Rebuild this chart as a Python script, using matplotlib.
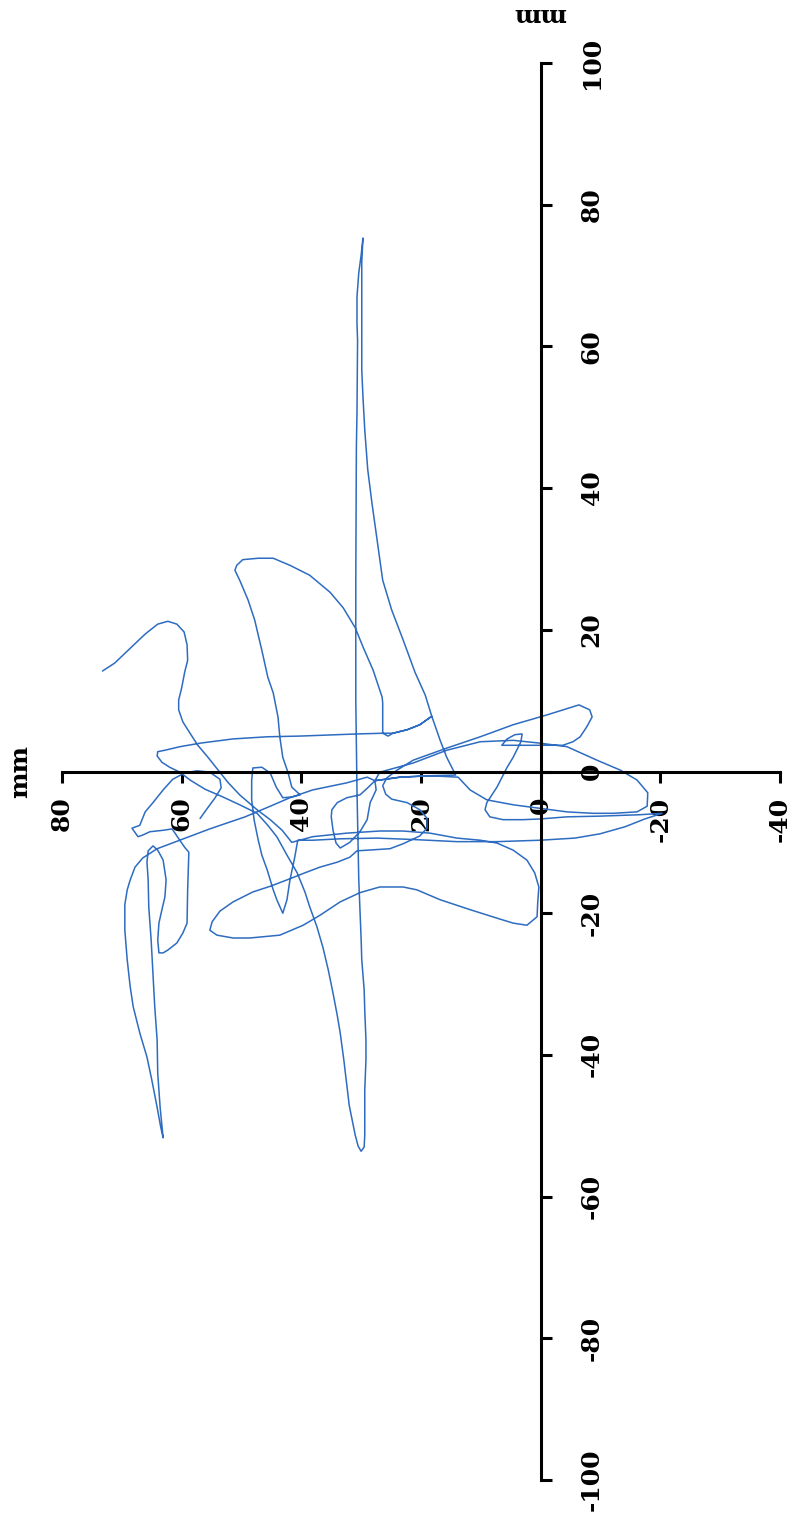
import matplotlib
matplotlib.use("Agg")
import matplotlib.pyplot as plt

plt.rcParams['font.family'] = ['DejaVu Serif']
plt.rcParams['axes.unicode_minus'] = False

# trajectory pieces in mm, (horizontal, vertical) as drawn on the page
tail = [(73.2, 14.2), (71.2, 15.3), (68.6, 17.4), (66.1, 19.4), (64.0, 20.8), (62.3, 21.2),
        (60.8, 20.8), (59.6, 19.7), (59.1, 17.9), (59.0, 15.7), (59.5, 14.0), (60.0, 11.8),
        (60.5, 10.1), (60.5, 8.7), (59.8, 7.0), (58.6, 5.4), (57.3, 3.7), (55.6, 2.0),
        (53.9, 0.2), (52.3, -1.5), (50.3, -3.3), (47.4, -5.4), (45.2, -6.8), (43.2, -8.3),
        (41.6, -10.0)]
lower_loop = [(38.1, -9.2), (32.4, -8.7), (26.9, -8.4), (23.0, -8.4), (18.5, -8.7), (14.0, -9.4),
              (10.1, -9.7), (7.3, -10.1), (4.6, -11.1), (2.3, -12.5), (1.0, -14.3), (0.3, -16.3),
              (0.5, -18.6), (0.6, -20.5), (2.3, -21.7), (4.6, -21.4), (7.3, -20.7), (11.8, -19.5),
              (16.8, -18.1), (20.7, -16.7), (23.0, -16.3), (26.9, -16.3), (30.2, -17.1),
              (33.5, -18.4), (36.9, -20.3), (39.7, -21.7), (43.6, -23.1), (48.6, -23.5),
              (51.4, -23.5), (54.1, -23.1), (55.3, -22.4), (54.9, -21.2), (53.6, -19.7),
              (51.4, -18.4), (48.1, -17.0), (45.2, -16.2), (42.4, -15.3), (39.4, -14.3),
              (36.9, -13.5), (34.0, -12.8), (31.9, -12.1)]
loop_b = [(30.7, -11.2), (25.2, -10.9), (23.0, -10.2), (20.2, -9.1), (19.0, -8.0), (19.0, -6.6),
          (20.2, -5.4), (22.3, -4.4), (24.9, -3.9), (25.9, -3.2), (26.4, -2.0), (25.7, -0.9),
          (24.0, 0.2), (21.3, 1.6), (15.7, 3.3), (10.1, 4.9), (4.6, 6.6), (-1.1, 8.0), (-6.4, 9.4)]
hook = [(-8.2, 8.7), (-8.6, 7.7), (-7.7, 6.3), (-6.6, 4.9), (-5.4, 4.2), (-3.7, 3.7), (-1.1, 3.7),
        (3.5, 3.7), (6.5, 3.7), (5.6, 4.6), (4.3, 5.2), (3.1, 5.3), (3.3, 4.2), (4.6, 2.0),
        (5.6, 0.6), (7.3, -2.2), (9.0, -4.4), (9.3, -5.4), (8.5, -6.4), (6.3, -6.8), (3.0, -6.8),
        (0.1, -6.7), (-4.4, -6.4), (-9.9, -6.3), (-16.6, -6.1), (-20.3, -5.9)]
back_line = [(-17.4, -6.7), (-14.1, -7.8), (-9.9, -8.8), (-5.7, -9.4), (0.1, -9.7), (7.3, -9.9),
             (14.0, -9.9), (21.3, -9.6), (27.4, -9.4), (33.5, -9.5), (38.1, -9.7), (40.6, -9.7)]
spike = [(41.1, -12.1), (41.9, -15.3), (42.4, -18.1), (43.1, -20.0), (44.1, -18.1), (44.7, -16.7),
         (45.7, -13.9), (46.6, -11.8), (47.2, -9.7), (47.9, -6.8), (48.3, -4.0), (48.3, -1.2),
         (48.1, 0.5), (46.6, 0.6), (45.2, -0.2), (44.2, -2.2), (43.1, -3.7), (41.6, -3.6),
         (40.2, -3.3)]
triangle = [(41.6, -2.2), (42.2, -0.2), (43.1, 2.0), (43.6, 4.9), (43.9, 7.7), (44.7, 11.1),
            (45.6, 13.3), (46.6, 17.1), (47.8, 21.4), (48.9, 24.2), (50.3, 27.0), (51.1, 28.4),
            (50.8, 29.1), (49.8, 29.9), (47.2, 30.1), (44.7, 30.1), (41.9, 29.1), (38.6, 27.7),
            (35.2, 25.3), (33.0, 23.1), (31.0, 20.3), (29.7, 17.6), (28.0, 14.3), (26.5, 10.5),
            (26.4, 9.7), (26.4, 7.3), (26.4, 5.4), (25.5, 5.0), (24.7, 5.4), (22.3, 5.9),
            (20.2, 6.6), (18.2, 7.8)]
strand = [(19.3, 10.8), (21.0, 14.0), (23.0, 18.6), (24.9, 22.8), (26.4, 27.0), (27.4, 33.1),
          (28.2, 37.9), (28.9, 42.6), (29.4, 48.2), (29.7, 52.9), (29.9, 56.7), (29.9, 66.5),
          (29.9, 71.9), (29.7, 75.3), (30.0, 72.9), (30.4, 70.4), (30.7, 67.0), (30.7, 63.3),
          (30.6, 60.9), (30.7, 50.6), (30.8, 45.8), (30.9, 27.0), (30.9, 10.1), (30.7, -2.6),
          (30.5, -11.1), (30.4, -15.3), (30.2, -19.5), (30.0, -23.8), (29.9, -26.6),
          (29.5, -30.8), (29.4, -33.7), (29.2, -37.9), (29.2, -40.7), (29.4, -45.0),
          (29.4, -47.8), (29.4, -51.3), (29.5, -53.0), (30.0, -53.6)]
long_diag = [(30.5, -52.9), (31.0, -51.3), (31.5, -49.2), (32.0, -47.1), (32.4, -44.2),
             (32.9, -40.7), (33.5, -36.9), (34.0, -34.4), (34.7, -31.3), (35.5, -28.0),
             (36.4, -24.8), (37.4, -21.9), (38.6, -19.1), (39.4, -17.0), (40.7, -14.3),
             (42.4, -11.8), (44.1, -9.2), (45.6, -7.6), (47.4, -5.9), (50.3, -4.7), (53.1, -3.6),
             (56.1, -2.5), (58.6, -1.2), (60.3, -0.1), (62.0, 0.6), (63.3, 1.3), (64.1, 2.2),
             (64.0, 2.8)]
crossbar = [(62.8, 3.0), (60.3, 3.5), (56.9, 4.0), (51.4, 4.6), (45.7, 4.9), (40.2, 5.0),
            (30.7, 5.3), (26.4, 5.4), (24.7, 5.4), (22.3, 5.9), (20.2, 6.6), (18.2, 7.8),
            (16.8, 4.4), (15.7, 2.0), (14.2, -0.5), (18.5, -0.6), (23.5, -0.8), (27.7, -1.3)]
loop_a = [(27.5, -2.6), (28.5, -4.4), (29.0, -6.8), (30.2, -8.5), (31.9, -10.0), (33.5, -10.8),
          (34.2, -10.1), (34.7, -8.3), (35.0, -6.4), (34.9, -5.4), (34.0, -4.4), (32.4, -3.7),
          (30.2, -3.3), (28.9, -2.3), (27.7, -1.3), (26.9, -0.1)]
big_loop = [(21.3, 1.2), (15.7, 3.0), (10.1, 4.2), (4.6, 4.4), (0.1, 4.0), (-4.4, 3.5),
            (-9.4, 1.6), (-13.3, 0.2), (-16.1, -1.2), (-17.9, -3.0), (-17.8, -4.9),
            (-16.1, -5.7), (-12.1, -5.9), (-8.7, -5.9), (-4.4, -5.7), (0.1, -5.2), (4.6, -4.7),
            (9.0, -4.0), (11.8, -2.6), (13.8, -0.8), (18.5, -0.6), (23.5, -0.8), (27.7, -1.3),
            (29.0, -0.8), (32.4, -1.6), (38.1, -2.6), (41.9, -3.7), (45.2, -4.9), (49.4, -6.4),
            (55.3, -8.1), (60.3, -9.7), (64.1, -10.9), (66.5, -12.2), (67.8, -13.5)]
far_left = [(68.6, -15.3), (69.1, -16.7), (69.5, -18.8), (69.5, -22.4), (69.1, -26.6),
            (68.6, -30.4), (68.1, -33.2), (67.0, -36.9), (65.8, -40.3), (65.0, -43.5),
            (64.1, -47.4), (63.5, -50.2), (63.1, -51.7), (63.6, -47.4), (64.0, -42.6),
            (64.1, -37.9), (64.5, -33.2), (64.8, -28.4), (65.1, -23.8), (65.5, -19.1),
            (65.6, -15.3), (65.8, -12.8), (65.6, -11.2), (64.8, -10.5), (64.0, -11.1),
            (63.1, -12.5), (62.6, -15.3), (62.8, -17.7), (63.3, -19.5), (63.8, -21.4),
            (64.0, -23.8), (63.8, -25.6), (63.1, -25.6), (62.3, -25.2), (60.8, -24.2),
            (59.8, -22.8), (59.1, -21.4), (59.0, -16.7), (58.8, -11.4), (59.5, -10.7),
            (60.3, -9.7), (61.1, -8.7), (61.6, -8.1), (63.1, -8.3), (65.3, -8.5), (66.6, -9.0),
            (67.3, -9.2), (68.3, -8.0)]
arc_60 = [(67.0, -7.6), (66.1, -5.7), (64.8, -4.4), (63.1, -2.6), (61.5, -1.1), (59.5, -0.2),
          (57.4, 0.1), (55.3, -0.1), (53.6, -1.1), (53.4, -2.3), (54.4, -3.7), (55.8, -5.3),
          (56.9, -6.6)]

pieces = [tail, lower_loop, loop_b, hook, back_line, spike, triangle, strand, long_diag,
          crossbar, loop_a, big_loop, far_left, arc_60]

h_ticks = [80, 60, 40, 20, 0, -20, -40]
v_ticks = [100, 80, 60, 40, 20, 0, -20, -40, -60, -80, -100]

track = [p for piece in pieces for p in piece]
xs = [p[0] for p in track]
ys = [p[1] for p in track]

fig = plt.figure(figsize=(7.92, 15.21), dpi=100)
ax = fig.add_axes([62 / 792, 1 - 1480 / 1521, 718 / 792, 1417 / 1521])
ax.plot(xs, ys, color='#2d6cc0', lw=1.1, solid_joinstyle='round')

ax.set_xlim(80, -40)
ax.set_ylim(-100, 100)
ax.spines['left'].set_visible(False)
ax.spines['top'].set_visible(False)
ax.spines['right'].set_position(('data', 0))
ax.spines['bottom'].set_position(('data', 0))
for s in ('right', 'bottom'):
    ax.spines[s].set_linewidth(2.2)
ax.yaxis.set_ticks_position('right')
ax.xaxis.set_ticks_position('bottom')

ax.set_xticks(h_ticks)
ax.set_xticklabels([str(t) for t in h_ticks], rotation=90, fontsize=18, fontweight='bold')
ax.set_yticks(v_ticks)
ax.set_yticklabels([str(t) for t in v_ticks], rotation=90, fontsize=18, fontweight='bold',
                   va='center')
ax.tick_params(axis='x', direction='out', length=8, width=2.2, pad=10)
ax.tick_params(axis='y', direction='out', length=8, width=2.2, pad=20)

fig.text(20 / 792, 1 - 772 / 1521, 'mm', rotation=90, fontsize=18, fontweight='bold',
         ha='center', va='center')
fig.text(540 / 792, 1 - 15 / 1521, 'mm', rotation=180, fontsize=18, fontweight='bold',
         ha='center', va='center')

fig.savefig('out.png', dpi=100)
